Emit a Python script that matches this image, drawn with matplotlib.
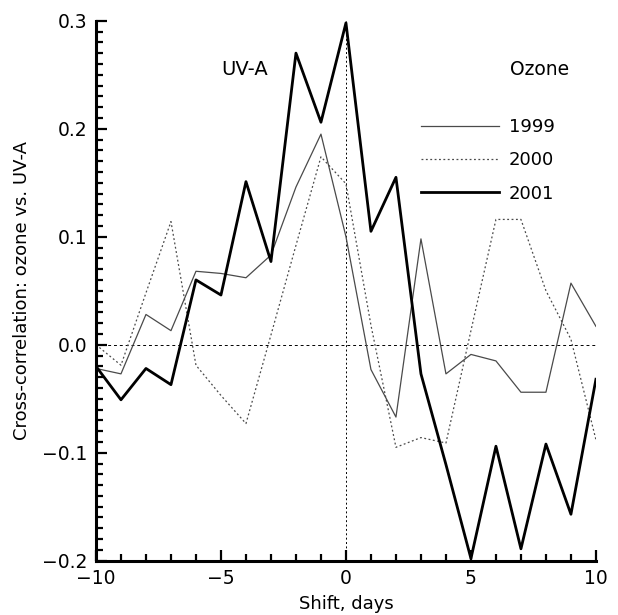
import matplotlib

matplotlib.use("Agg")
import matplotlib.pyplot as plt
from matplotlib.ticker import MultipleLocator

shift_days = list(range(-10, 11))
cc_1999 = [-0.022, -0.027, 0.028, 0.013, 0.068, 0.066, 0.062, 0.083, 0.146, 0.195,
           0.100, -0.023, -0.067, 0.098, -0.027, -0.009, -0.015, -0.044, -0.044,
           0.057, 0.017]
cc_2000 = [0.000, -0.019, 0.048, 0.114, -0.019, -0.047, -0.073, 0.009, 0.092, 0.174,
           0.149, 0.018, -0.095, -0.086, -0.091, 0.013, 0.116, 0.116, 0.050,
           0.005, -0.088]
cc_2001 = [-0.020, -0.051, -0.022, -0.037, 0.060, 0.046, 0.151, 0.077, 0.270, 0.206,
           0.298, 0.105, 0.155, -0.027, -0.111, -0.198, -0.094, -0.189, -0.092,
           -0.157, -0.032]
years = ["1999", "2000", "2001"]

plt.rcParams["font.family"] = "DejaVu Sans"

fig = plt.figure(figsize=(6.18, 6.15), dpi=100)
ax = fig.add_axes([0.1553, 0.0883, 0.809, 0.878])

ax.axhline(0, color="black", lw=0.7, ls=(0, (3, 3)), zorder=1)
ax.axvline(0, color="black", lw=0.7, ls=(0, (2, 2.5)), zorder=1)

ax.plot(shift_days, cc_1999, color="#4a4a4a", lw=0.9, label=years[0], zorder=3)
ax.plot(shift_days, cc_2000, color="#4a4a4a", lw=0.9, ls=(0, (1.5, 2)),
        label=years[1], zorder=2)
ax.plot(shift_days, cc_2001, color="black", lw=2.0, label=years[2], zorder=4)

ax.set_xlim(-10, 10)
ax.set_ylim(-0.2, 0.3)
ax.xaxis.set_major_locator(MultipleLocator(5))
ax.xaxis.set_minor_locator(MultipleLocator(1))
ax.yaxis.set_major_locator(MultipleLocator(0.1))
ax.yaxis.set_minor_locator(MultipleLocator(0.01))
ax.yaxis.set_major_formatter(lambda v, pos: f"{v:.1f}".replace("-", "\u2212")
                             if abs(v) > 1e-9 else "0.0")

for side in ("top", "right"):
    ax.spines[side].set_visible(False)
for side in ("left", "bottom"):
    ax.spines[side].set_linewidth(2.2)

ax.tick_params(which="major", direction="in", length=8, width=1.6,
               labelsize=13.5, pad=6)
ax.tick_params(which="minor", direction="in", length=5, width=1.6)

ax.set_xlabel("Shift, days", fontsize=13, labelpad=5)
ax.set_ylabel("Cross-correlation: ozone vs. UV-A", fontsize=13, labelpad=8)

ax.text(-5.0, 0.255, "UV-A", fontsize=14, va="center", ha="left")
ax.text(6.55, 0.255, "Ozone", fontsize=13.5, va="center", ha="left")

ax.legend(loc="upper left", bbox_to_anchor=(0.65, 0.82), frameon=False,
          fontsize=13, handlelength=4.3, handletextpad=0.55, labelspacing=0.85,
          borderpad=0, borderaxespad=0)

fig.savefig("out.png", dpi=100)
